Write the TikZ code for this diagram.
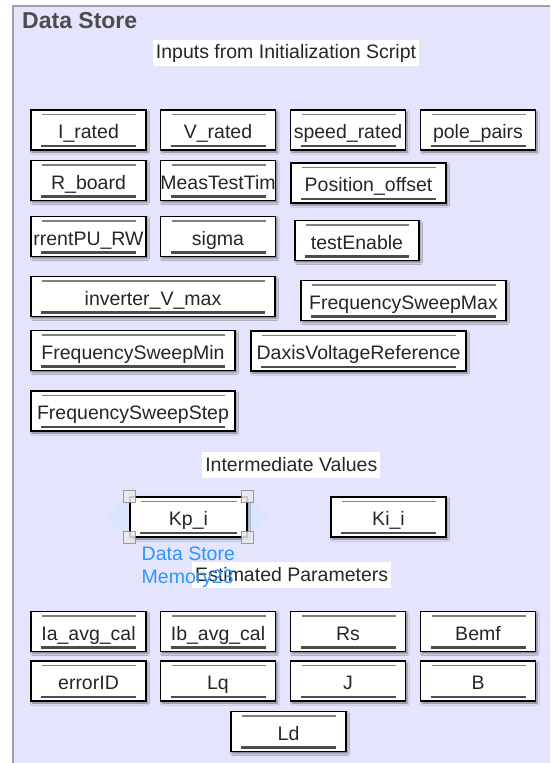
\documentclass[tikz,border=0pt]{standalone}
\usepackage{fontspec}
\setmainfont{Liberation Sans}
\usetikzlibrary{shadows.blur}

\definecolor{panelfill}{RGB}{228,228,252}
\definecolor{panelline}{RGB}{160,160,170}
\definecolor{memblue}{RGB}{45,150,250}
\definecolor{glowblue}{RGB}{205,230,255}

% the two grey bars inside every store block
\newcommand{\storebars}{%
  \draw[black!50, line width=1.6pt] ([xshift=11pt,yshift=-4.5pt]path picture bounding box.north west) -- ([xshift=-10pt,yshift=-4.5pt]path picture bounding box.north east);
  \draw[black!70, line width=2.4pt] ([xshift=10pt,yshift=4pt]path picture bounding box.south west) -- ([xshift=-10pt,yshift=4pt]path picture bounding box.south east);}

\tikzset{
  store/.style={draw=black, line width=1.2pt, fill=white, minimum width=115pt, minimum height=40pt,
    inner sep=0pt, text height=17pt, text depth=0pt, text=black!85, font=\fontsize{19.5}{22}\selectfont,
    blur shadow={shadow xshift=1.5pt, shadow yshift=-2pt, shadow blur radius=2pt, shadow opacity=50},
    path picture={\storebars}},
  storetext/.style={inner sep=0pt, text height=17pt, text depth=0pt, text=black!85, font=\fontsize{19.5}{22}\selectfont},
  heading/.style={fill=white, inner xsep=3pt, inner ysep=0pt, minimum height=26pt, text=black!85,
    font=\fontsize{19.5}{22}\selectfont},
  handle/.style={draw=black!45, fill=black!8, line width=1pt, minimum size=12pt, inner sep=0pt, opacity=0.85}
}

\begin{document}
\begin{tikzpicture}[x=1pt,y=-1pt]
  \clip (0,0) rectangle (550,763);
  \fill[white] (0,0) rectangle (550,763);
  \draw[panelline, line width=2.5pt, fill=panelfill] (13,6) rectangle (600,820);
  \node[anchor=base west, inner sep=0pt, text=black!70, font=\bfseries\fontsize{23}{27}\selectfont] (title) at (22,28) {Data Store};

  % inputs from the init script
  \node[heading] (inputs) at (286,53) {Inputs from Initialization Script};
  \node[store] (irated) at (88.5,130) {I\_rated};
  \node[store] (vrated) at (218,130) {V\_rated};
  \node[store] (speedrated) at (348,130) {speed\_rated};
  \node[store] (polepairs) at (478,130) {pole\_pairs};
  \node[store] (rboard) at (88.5,180.5) {R\_board};
  \node[store] (meastest) at (218,180.5) {};
  \begin{scope}
    \clip (meastest.north west) rectangle (meastest.south east);
    \node[storetext] at (meastest) {MeasTestTim};
  \end{scope}
  \node[store, minimum width=155pt] (posoffset) at (368.5,183) {Position\_offset};
  \node[store] (currentpu) at (88.5,236.5) {};
  \begin{scope}
    \clip (currentpu.north west) rectangle (currentpu.south east);
    \node[storetext] at (currentpu) {rrentPU\_RW};
  \end{scope}
  \node[store] (sigma) at (218,236.5) {sigma};
  \node[store, minimum width=124pt] (testenable) at (357,240.5) {testEnable};
  \node[store, minimum width=244pt] (invvmax) at (153,296.5) {inverter\_V\_max};
  \node[store, minimum width=205pt] (fsweepmax) at (403.5,300.5) {FrequencySweepMax};
  \node[store, minimum width=204pt] (fsweepmin) at (133,350.5) {FrequencySweepMin};
  \node[store, minimum width=215pt] (daxisref) at (358.5,351) {DaxisVoltageReference};
  \node[store, minimum width=204pt] (fsweepstep) at (133,411) {FrequencySweepStep};

  % intermediate values
  \node[heading] (intermediate) at (291.3,465) {Intermediate Values};
  \fill[glowblue, opacity=0.5] (107,517) -- (130,494) -- (247,494) -- (268,517) -- (247,540) -- (130,540) -- cycle;
  \node[store, minimum width=117pt] (kpi) at (188.5,517) {Kp\_i};
  \foreach \c in {north west, north east, south west, south east}
    \node[handle] at (kpi.\c) {};
  \node[store] (kii) at (388.5,517) {Ki\_i};

  % estimated parameters
  \node[heading] (estimated) at (291.7,575) {Estimated Parameters};
  \node[anchor=north west, inner sep=0pt, align=left, text=memblue, font=\fontsize{19.5}{23}\selectfont] (memlabel) at (141.5,546.5) {Data Store\\Memory23};
  \node[store] (iaavg) at (88.5,631.5) {Ia\_avg\_cal};
  \node[store] (ibavg) at (218,631.5) {Ib\_avg\_cal};
  \node[store] (rs) at (348,631.5) {Rs};
  \node[store] (bemf) at (478,631.5) {Bemf};
  \node[store] (errorid) at (88.5,681) {errorID};
  \node[store] (lq) at (218,681) {Lq};
  \node[store] (jinertia) at (348,681) {J};
  \node[store] (bfriction) at (478,681) {B};
  \node[store] (ld) at (288.5,731.5) {Ld};
\end{tikzpicture}
\end{document}
